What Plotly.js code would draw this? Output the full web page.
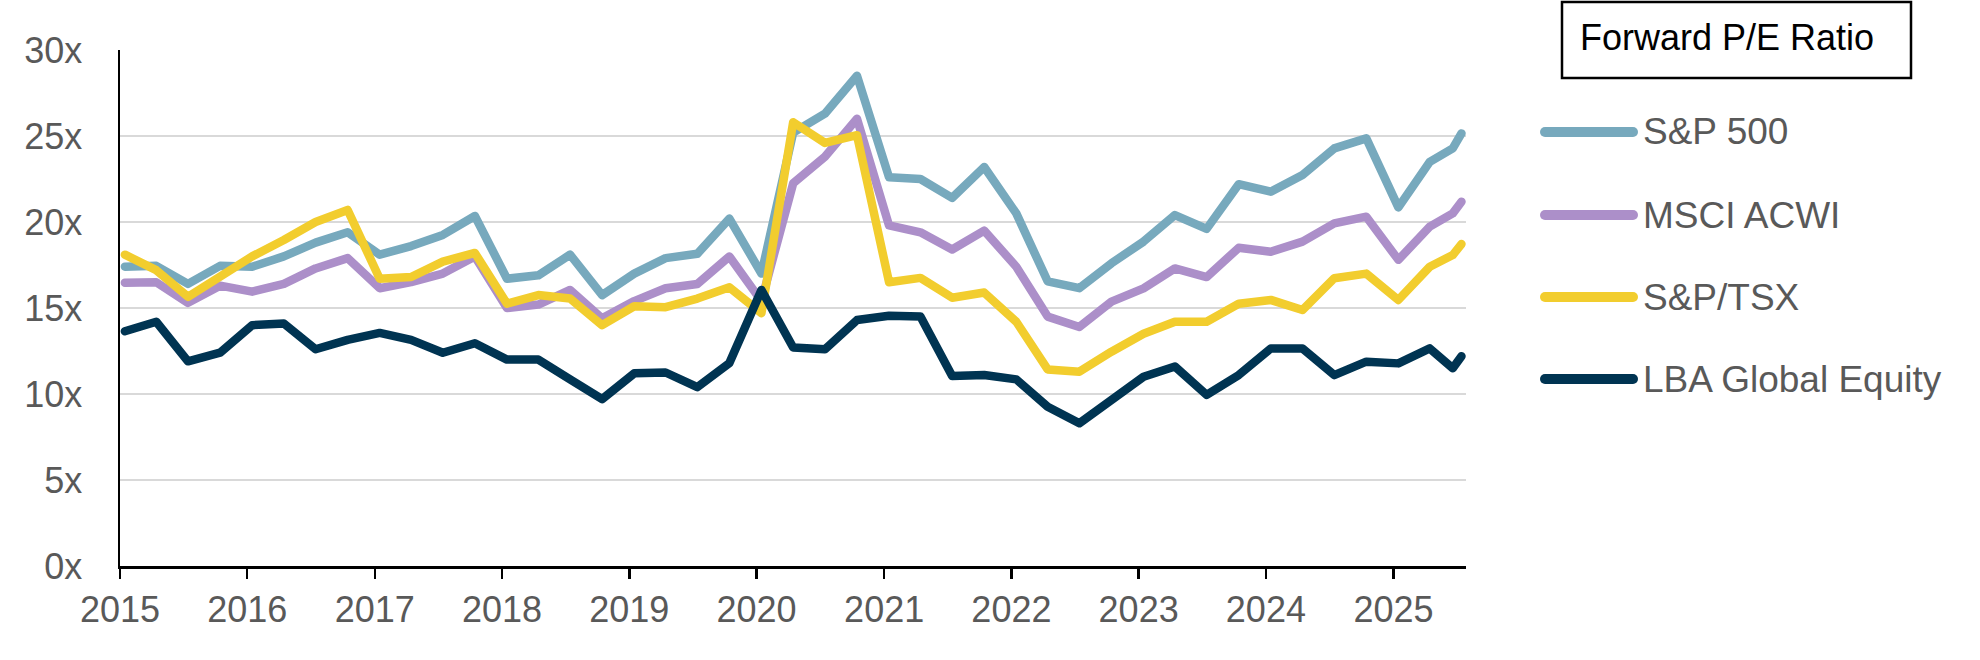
<!DOCTYPE html>
<html>
<head>
<meta charset="utf-8">
<script src="https://cdn.plot.ly/plotly-3.0.1.min.js"></script>
<style>
  html, body { margin: 0; padding: 0; background: #ffffff; }
  #chart { width: 1980px; height: 660px; }
  .js-line { stroke-linejoin: round !important; stroke-linecap: round !important; }
  .shapelayer path { stroke-linecap: round !important; }
</style>
</head>
<body>
<div id="chart"></div>
<script>
// ---- data ----
const dates = [
  '2015-01-15','2015-04-15','2015-07-15','2015-10-15',
  '2016-01-15','2016-04-15','2016-07-15','2016-10-15',
  '2017-01-15','2017-04-15','2017-07-15','2017-10-15',
  '2018-01-15','2018-04-15','2018-07-15','2018-10-15',
  '2019-01-15','2019-04-15','2019-07-15','2019-10-15',
  '2020-01-15','2020-04-15','2020-07-15','2020-10-15',
  '2021-01-15','2021-04-15','2021-07-15','2021-10-15',
  '2022-01-15','2022-04-15','2022-07-15','2022-10-15',
  '2023-01-15','2023-04-15','2023-07-15','2023-10-15',
  '2024-01-15','2024-04-15','2024-07-15','2024-10-15',
  '2025-01-15','2025-04-15','2025-06-20','2025-07-15'
];
const sp500 = [17.4,17.45,16.4,17.45,17.4,18.0,18.8,19.4,18.1,18.6,19.25,20.35,
  16.7,16.9,18.1,15.75,17.0,17.9,18.15,20.2,17.0,25.2,26.3,28.5,
  22.6,22.5,21.4,23.2,20.5,16.55,16.15,17.6,18.86,20.4,19.6,22.2,
  21.76,22.73,24.28,24.86,20.85,23.5,24.28,25.15];
const msciAcwi = [16.47,16.5,15.3,16.3,15.95,16.4,17.3,17.9,16.15,16.5,17.0,18.0,
  15.0,15.2,16.05,14.4,15.4,16.15,16.4,18.0,15.4,22.25,23.8,26.0,
  19.8,19.4,18.4,19.5,17.4,14.5,13.9,15.37,16.14,17.3,16.8,18.5,
  18.27,18.86,19.92,20.31,17.8,19.73,20.5,21.18];
const spTsx = [18.1,17.2,15.65,16.8,18.0,18.95,20.0,20.7,16.7,16.8,17.7,18.2,
  15.25,15.75,15.55,14.0,15.1,15.05,15.55,16.2,14.7,25.8,24.6,25.05,
  16.5,16.75,15.6,15.9,14.2,11.43,11.3,12.46,13.5,14.2,14.2,15.25,
  15.47,14.88,16.73,17.0,15.47,17.4,18.08,18.72];
const lbaGlobal = [13.65,14.2,11.9,12.4,14.0,14.1,12.6,13.15,13.55,13.15,12.4,12.95,
  12.0,12.0,10.85,9.7,11.2,11.25,10.4,11.8,16.05,12.7,12.6,14.3,
  14.55,14.5,11.05,11.1,10.85,9.26,8.3,9.65,11.0,11.6,9.95,11.1,
  12.65,12.65,11.1,11.88,11.78,12.65,11.5,12.2];
const seriesNames = ['S&P 500','MSCI ACWI','S&P/TSX','LBA Global Equity'];
const seriesColors = ['#77A9BD','#AC8FC9','#F2CD2E','#003452'];
const yearTicks = ['2015','2016','2017','2018','2019','2020','2021','2022','2023','2024','2025'];
const legendTitle = 'Forward P/E Ratio';

// ---- build ----
const values = [sp500, msciAcwi, spTsx, lbaGlobal];
const traces = values.map((v, k) => ({
  type: 'scatter', mode: 'lines', x: dates, y: v, name: seriesNames[k],
  line: {color: seriesColors[k], width: 8.5}, hoverinfo: 'skip', showlegend: false
}));

const FONT = 'Liberation Sans, Arial, Helvetica, sans-serif';
const L = 120, R = 1466, T = 50, B = 566;
const W = R - L, H = B - T;
const px = x => (x - L) / W;
const py = y => (B - y) / H;
const esc = s => s.replace(/&/g, '&amp;');

const shapes = [{
  type: 'rect', xref: 'paper', yref: 'paper',
  x0: px(1562), x1: px(1911), y0: py(2), y1: py(78),
  line: {color: '#000000', width: 2.5}, fillcolor: 'rgba(0,0,0,0)'
}];
const annotations = [{
  xref: 'paper', yref: 'paper', x: px(1578), y: py(38), xanchor: 'left', yanchor: 'middle',
  text: legendTitle, showarrow: false, font: {family: FONT, size: 36, color: '#000000'}
}];
const legY = [132, 215, 297, 379];
seriesNames.forEach((n, k) => {
  shapes.push({
    type: 'line', xref: 'paper', yref: 'paper',
    x0: px(1545), x1: px(1633), y0: py(legY[k]), y1: py(legY[k]),
    line: {color: seriesColors[k], width: 10}
  });
  annotations.push({
    xref: 'paper', yref: 'paper', x: px(1641), y: py(legY[k]), xanchor: 'left', yanchor: 'middle',
    text: esc(n), showarrow: false, font: {family: FONT, size: 37, color: '#595959'}
  });
});

const layout = {
  width: 1980, height: 660,
  margin: {l: L, r: 1980 - R, t: T, b: 660 - B, pad: 0},
  paper_bgcolor: '#ffffff', plot_bgcolor: '#ffffff',
  font: {family: FONT, size: 36, color: '#595959'},
  showlegend: false,
  xaxis: {
    type: 'date', range: ['2015-01-01', '2025-07-28'],
    tickvals: yearTicks.map(y => y + '-01-01'), ticktext: yearTicks,
    ticks: 'outside', ticklen: 10, tickwidth: 2.5, tickcolor: '#000000',
    showline: true, linecolor: '#000000', linewidth: 2.5,
    showgrid: false, zeroline: false, ticklabelstandoff: 0,
    tickfont: {family: FONT, size: 36, color: '#595959'}
  },
  yaxis: {
    range: [0, 30], dtick: 5, tick0: 0, ticksuffix: 'x',
    showline: true, linecolor: '#000000', linewidth: 2.5,
    showgrid: true, gridcolor: '#D9D9D9', gridwidth: 2, zeroline: false,
    ticks: '', ticklabelstandoff: 28,
    tickfont: {family: FONT, size: 36, color: '#595959'}
  },
  shapes: shapes,
  annotations: annotations
};

Plotly.newPlot('chart', traces, layout, {staticPlot: true, displayModeBar: false});
</script>
</body>
</html>
